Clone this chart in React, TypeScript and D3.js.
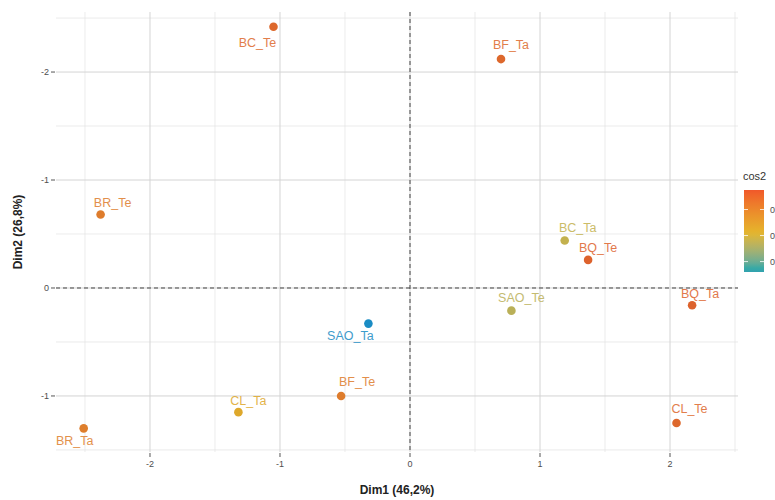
import React from "react";
import * as d3 from "d3";

const names = ["BC_Te", "BF_Ta", "BR_Te", "BC_Ta", "BQ_Te", "BQ_Ta", "SAO_Te", "SAO_Ta", "BF_Te", "CL_Ta", "BR_Ta", "CL_Te"];
const dim1 = [-1.05, 0.70, -2.38, 1.19, 1.37, 2.17, 0.78, -0.32, -0.53, -1.32, -2.51, 2.05];
const dim2 = [2.42, 2.12, 0.68, 0.44, 0.26, -0.16, -0.21, -0.33, -1.0, -1.15, -1.30, -1.25];
const cos2 = [0.70, 0.70, 0.63, 0.36, 0.72, 0.72, 0.34, 0.05, 0.63, 0.46, 0.62, 0.70];

const xTicks = [-2, -1, 0, 1, 2];
const xTickLabels = ["-2", "-1", "0", "1", "2"];
const yTicks = [2, 1, 0, -1];
const yTickLabels = ["-2", "-1", "0", "-1"];
const legendTicks = [0.6, 0.4, 0.2];
const legendTickLabels = ["0.6", "0.4", "0.2"];

// label offsets (layout only, px)
const labelDx = [-16, 10, 12, 13, 10, 8, 10, -18, 16, 10, -9, 13];
const labelDy = [16, -14, -12, -13, -12, -12, -13, 12, -14, -12, 12, -14];

const W = 775, H = 500;
const P = { left: 56, right: 738, top: 12, bottom: 452 };

export default function App() {
  const x = d3.scaleLinear().domain([-2.723, 2.523]).range([P.left, P.right]);
  const y = d3.scaleLinear().domain([2.556, -1.519]).range([P.top, P.bottom]);
  const color = d3
    .scaleLinear<string>()
    .domain([0.05, 0.15, 0.42, 0.75])
    .range(["#1a8cc4", "#30A9A8", "#DDB22A", "#DC582C"])
    .interpolate(d3.interpolateLab);
  const legColor = d3
    .scaleLinear<string>()
    .domain([0.05, 0.15, 0.42, 0.75])
    .range(["#1a8cc4", "#35AAA6", "#E4B62C", "#F0582A"])
    .interpolate(d3.interpolateLab);

  const xMinor = [-2.5, -1.5, -0.5, 0.5, 1.5, 2.5];
  const yMinor = [2.5, 1.5, 0.5, -0.5, -1.5];

  const legTop = 190, legBot = 272, legX = 744, legW = 20;
  const lc = d3.scaleLinear().domain([0.75, 0.12]).range([legTop, legBot]);
  const stops = d3.range(0, 1.0001, 0.05);

  const font = "'Liberation Sans', Arial, sans-serif";

  return (
    <svg width={W} height={H} style={{ position: "absolute", left: 0, top: 0, background: "#fff" }} fontFamily={font}>
      <defs>
        <linearGradient id="leg" x1="0" y1="0" x2="0" y2="1">
          {stops.map((t, i) => (
            <stop key={i} offset={t} stopColor={legColor(lc.invert(legTop + t * (legBot - legTop)))} />
          ))}
        </linearGradient>
      </defs>
      {/* minor grid */}
      {xMinor.map((v, i) => (
        <line key={"xm" + i} x1={x(v)} x2={x(v)} y1={P.top} y2={P.bottom} stroke="#e3e3e3" strokeWidth={0.7} />
      ))}
      {yMinor.map((v, i) => (
        <line key={"ym" + i} y1={y(v)} y2={y(v)} x1={P.left} x2={P.right} stroke="#e3e3e3" strokeWidth={0.7} />
      ))}
      {/* major grid */}
      {xTicks.map((v, i) => (
        <line key={"xg" + i} x1={x(v)} x2={x(v)} y1={P.top} y2={P.bottom} stroke="#d4d4d4" strokeWidth={1} />
      ))}
      {yTicks.map((v, i) => (
        <line key={"yg" + i} y1={y(v)} y2={y(v)} x1={P.left} x2={P.right} stroke="#d4d4d4" strokeWidth={1} />
      ))}
      {/* zero lines */}
      <line x1={x(0)} x2={x(0)} y1={P.top} y2={P.bottom} stroke="#444" strokeWidth={1} strokeDasharray="4,3" />
      <line y1={y(0)} y2={y(0)} x1={P.left} x2={P.right} stroke="#444" strokeWidth={1} strokeDasharray="4,3" />
      {/* ticks */}
      {xTicks.map((v, i) => (
        <g key={"xt" + i}>
          <line x1={x(v)} x2={x(v)} y1={P.bottom + 1} y2={P.bottom + 5} stroke="#555" strokeWidth={1} />
          <text x={x(v)} y={P.bottom + 15} textAnchor="middle" fontSize={9} fill="#4d4d4d">{xTickLabels[i]}</text>
        </g>
      ))}
      {yTicks.map((v, i) => (
        <g key={"yt" + i}>
          <line x1={P.left - 5} x2={P.left - 1} y1={y(v)} y2={y(v)} stroke="#555" strokeWidth={1} />
          <text x={P.left - 7} y={y(v)} dy="0.35em" textAnchor="end" fontSize={9} fill="#4d4d4d">{yTickLabels[i]}</text>
        </g>
      ))}
      {/* axis titles */}
      <text x={(P.left + P.right) / 2} y={494} textAnchor="middle" fontSize={12} fontWeight="bold" fill="#222">Dim1 (46,2%)</text>
      <text transform={`translate(22,${(P.top + P.bottom) / 2}) rotate(-90)`} textAnchor="middle" fontSize={12} fontWeight="bold" fill="#222">Dim2 (26,8%)</text>
      {/* points */}
      {names.map((n, i) => (
        <circle key={"p" + i} cx={x(dim1[i])} cy={y(dim2[i])} r={4.3} fill={color(cos2[i])} />
      ))}
      {names.map((n, i) => (
        <text key={"l" + i} x={x(dim1[i]) + labelDx[i]} y={y(dim2[i]) + labelDy[i]} dy="0.35em" textAnchor="middle" fontSize={12.5} fill={color(cos2[i])} opacity={0.85}>{n}</text>
      ))}
      {/* legend */}
      <text x={743} y={180} fontSize={11} fill="#333">cos2</text>
      <rect x={legX} y={legTop} width={legW} height={legBot - legTop} fill="url(#leg)" />
      {legendTicks.map((v, i) => (
        <g key={"lt" + i}>
          <line x1={legX} x2={legX + 4} y1={lc(v)} y2={lc(v)} stroke="#fff" strokeWidth={0.8} />
          <line x1={legX + legW - 4} x2={legX + legW} y1={lc(v)} y2={lc(v)} stroke="#fff" strokeWidth={0.8} />
          <text x={legX + legW + 6} y={lc(v)} dy="0.35em" fontSize={9} fill="#4d4d4d">{legendTickLabels[i]}</text>
        </g>
      ))}
    </svg>
  );
}
